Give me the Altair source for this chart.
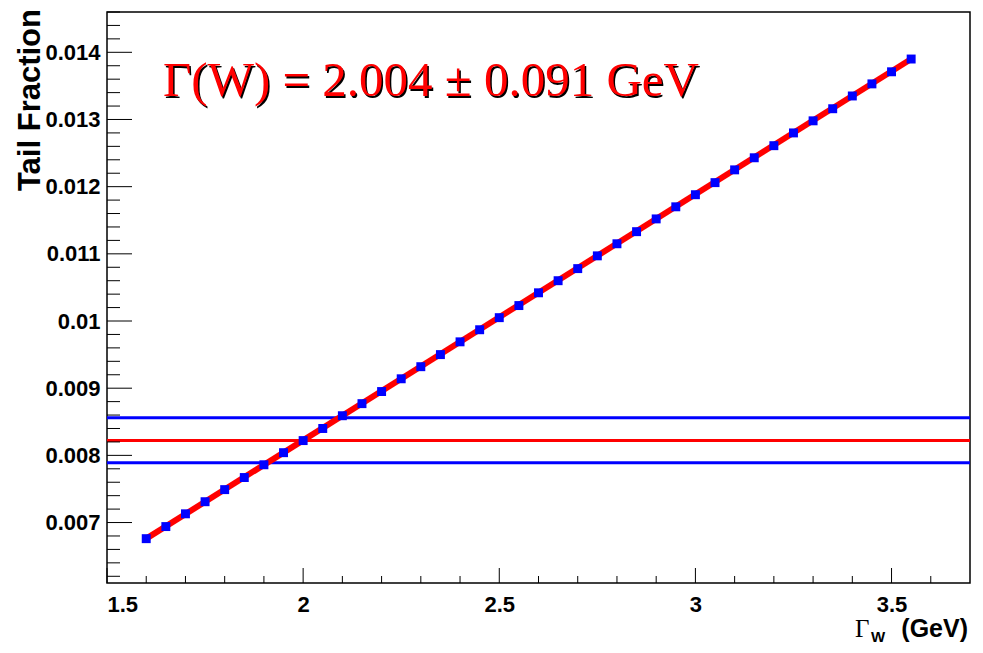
import altair as alt
import pandas as pd

gamma_w = [1.60, 1.65, 1.70, 1.75, 1.80, 1.85, 1.90, 1.95, 2.00, 2.05,
           2.10, 2.15, 2.20, 2.25, 2.30, 2.35, 2.40, 2.45, 2.50, 2.55,
           2.60, 2.65, 2.70, 2.75, 2.80, 2.85, 2.90, 2.95, 3.00, 3.05,
           3.10, 3.15, 3.20, 3.25, 3.30, 3.35, 3.40, 3.45, 3.50, 3.55]
tail_fraction = [0.00676, 0.00694, 0.00713, 0.00731, 0.00749, 0.00767, 0.00786, 0.00804, 0.00822, 0.00840,
                 0.00859, 0.00877, 0.00895, 0.00914, 0.00932, 0.00950, 0.00969, 0.00987, 0.01005, 0.01023,
                 0.01042, 0.01060, 0.01078, 0.01097, 0.01115, 0.01133, 0.01152, 0.01170, 0.01188, 0.01206,
                 0.01225, 0.01243, 0.01261, 0.01280, 0.01298, 0.01316, 0.01335, 0.01353, 0.01371, 0.01390]
fit_x = [1.60, 3.55]
fit_y = [0.00676, 0.01390]
band_values = [0.00856, 0.00822, 0.00789]
band_colors = ["#0000ff", "#ff0000", "#0000ff"]
x_major = [1.5, 2.0, 2.5, 3.0, 3.5]
x_minor = [1.6, 1.7, 1.8, 1.9, 2.1, 2.2, 2.3, 2.4, 2.6, 2.7, 2.8, 2.9, 3.1, 3.2, 3.3, 3.4, 3.6]
y_major = [0.007, 0.008, 0.009, 0.010, 0.011, 0.012, 0.013, 0.014]
y_minor = [0.0062, 0.0064, 0.0066, 0.0068, 0.0072, 0.0074, 0.0076, 0.0078,
           0.0082, 0.0084, 0.0086, 0.0088, 0.0092, 0.0094, 0.0096, 0.0098,
           0.0102, 0.0104, 0.0106, 0.0108, 0.0112, 0.0114, 0.0116, 0.0118,
           0.0122, 0.0124, 0.0126, 0.0128, 0.0132, 0.0134, 0.0136, 0.0138,
           0.0142, 0.0144, 0.0146]
annotation = "Γ(W) = 2.004 ± 0.091 GeV"

W, H = 863, 571
FONT = "Liberation Sans"
xs = alt.Scale(domain=[1.5, 3.7], nice=False, zero=False)
ys = alt.Scale(domain=[0.0061, 0.0146], nice=False, zero=False)

pts = pd.DataFrame({"x": gamma_w, "y": tail_fraction})
fit = pd.DataFrame({"x": fit_x, "y": fit_y})
bands = pd.DataFrame({"y": band_values, "c": band_colors})

xaxis = alt.Axis(values=x_major, labelExpr="format(datum.value, '~g')", tickSize=0,
                 grid=False, domain=False, labelFont=FONT, labelFontWeight="bold",
                 labelFontSize=22, labelColor="black", labelPadding=11, title=None)
yaxis = alt.Axis(values=y_major, labelExpr="format(datum.value, '.3~f')", tickSize=0,
                 grid=False, domain=False, labelFont=FONT, labelFontWeight="bold",
                 labelFontSize=22, labelColor="black", labelPadding=7, title=None)

base_axes = alt.Chart(pts).mark_point(opacity=0).encode(
    x=alt.X("x:Q", scale=xs, axis=xaxis),
    y=alt.Y("y:Q", scale=ys, axis=yaxis),
)

band_layer = alt.Chart(bands).mark_rule(strokeWidth=3).encode(
    y=alt.Y("y:Q", scale=ys), color=alt.Color("c:N", scale=None)
)

fit_layer = alt.Chart(fit).mark_line(color="#ff0000", strokeWidth=6).encode(
    x=alt.X("x:Q", scale=xs), y=alt.Y("y:Q", scale=ys)
)

pt_layer = alt.Chart(pts).mark_square(color="#0000ff", size=80, opacity=1).encode(
    x=alt.X("x:Q", scale=xs), y=alt.Y("y:Q", scale=ys)
)

def xticks(vals, length):
    return alt.Chart(pd.DataFrame({"x": vals})).mark_rule(color="black", strokeWidth=1).encode(
        x=alt.X("x:Q", scale=xs), y=alt.value(H), y2=alt.value(H - length)
    )

def yticks(vals, length):
    return alt.Chart(pd.DataFrame({"y": vals})).mark_rule(color="black", strokeWidth=1).encode(
        y=alt.Y("y:Q", scale=ys), x=alt.value(0), x2=alt.value(length)
    )

txt = pd.DataFrame({"t": [annotation]})
shadow = alt.Chart(txt).mark_text(font="Liberation Serif", fontSize=49, color="black",
                                   align="left", baseline="alphabetic").encode(
    x=alt.value(57.5), y=alt.value(85.5), text="t:N")
label = alt.Chart(txt).mark_text(font="Liberation Serif", fontSize=49, color="#ff0000",
                                  align="left", baseline="alphabetic").encode(
    x=alt.value(56), y=alt.value(84), text="t:N")

ytitle = alt.Chart(pd.DataFrame({"t": ["Tail Fraction"]})).mark_text(
    font=FONT, fontWeight="bold", fontSize=31, angle=270, align="right",
    baseline="middle", color="black").encode(x=alt.value(-76), y=alt.value(-3), text="t:N")

xt1 = alt.Chart(pd.DataFrame({"t": ["(GeV)"]})).mark_text(
    font=FONT, fontWeight="bold", fontSize=25, align="right", baseline="alphabetic",
    color="black").encode(x=alt.value(861), y=alt.value(H + 54), text="t:N")
xt2 = alt.Chart(pd.DataFrame({"t": ["W"]})).mark_text(
    font=FONT, fontWeight="bold", fontSize=15, align="left", baseline="alphabetic",
    color="black").encode(x=alt.value(764), y=alt.value(H + 59), text="t:N")
xt3 = alt.Chart(pd.DataFrame({"t": ["Γ"]})).mark_text(
    font="Liberation Serif", fontSize=25, align="left", baseline="alphabetic",
    color="black").encode(x=alt.value(748), y=alt.value(H + 54), text="t:N")

chart = alt.layer(
    base_axes, band_layer, fit_layer, pt_layer,
    xticks(x_major, 15), xticks(x_minor, 7), yticks(y_major, 25), yticks(y_minor, 13),
    shadow, label, ytitle, xt1, xt2, xt3,
).properties(
    width=W, height=H,
    autosize=alt.AutoSizeParams(type="none"),
    padding={"left": 107, "top": 12, "right": 13, "bottom": 70},
    background="white",
).configure_view(stroke="black", strokeWidth=1.5)

chart.save("out.html", embed_options={"renderer": "svg", "actions": False})
